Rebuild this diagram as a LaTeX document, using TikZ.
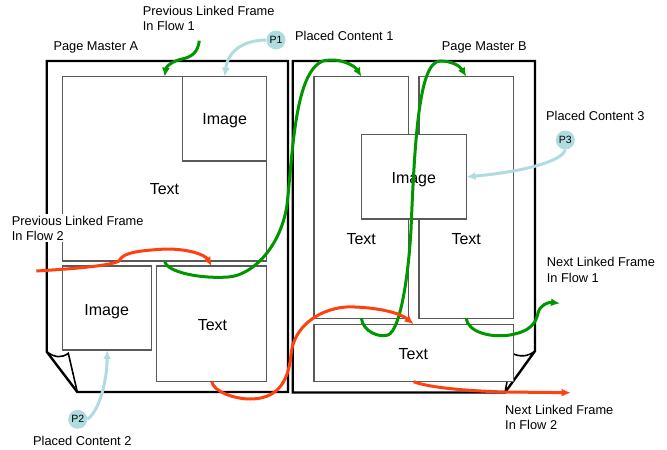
\documentclass[tikz,border=0pt]{standalone}
\usepackage{fontspec}
\setmainfont{Liberation Sans}
\usetikzlibrary{arrows.meta}
\definecolor{flowgreen}{RGB}{0,150,0}
\definecolor{flowred}{RGB}{255,64,16}
\definecolor{placeblue}{RGB}{176,220,224}
\begin{document}
\begin{tikzpicture}[x=1pt,y=-1pt,
  pageline/.style={line width=2.4pt, line join=miter},
  foldline/.style={line width=1.6pt, line join=miter},
  frm/.style={draw=black!65, line width=1.3pt, inner sep=0pt, outer sep=0pt, fill=white},
  big/.style={font=\fontsize{16}{19}\selectfont, inner sep=0pt},
  lbl/.style={font=\fontsize{12.8}{15.3}\selectfont, align=left, inner sep=0pt, anchor=west},
  pin/.style={circle, fill=placeblue, minimum size=19pt, inner sep=0pt, font=\fontsize{10.5}{12}\selectfont},
  greenflow/.style={draw=flowgreen, line width=3pt, -{Latex[length=9pt,width=8pt]}},
  redflow/.style={draw=flowred, line width=3pt, -{Latex[length=9pt,width=8pt]}},
  blueplace/.style={draw=placeblue, line width=3pt, -{Latex[length=9pt,width=8pt]}}
]
\useasboundingbox (0,0) rectangle (667,450);

% page outlines
\draw[pageline] (46.7,351.7) -- (46.7,61) -- (288,61) -- (288,392) -- (77.3,392) -- cycle;
\draw[foldline] (46.7,351.7) .. controls (55,358) and (62,358) .. (68.3,353.3) -- (77.3,392);
\draw[pageline] (535,351) -- (535,61) -- (292.7,61) -- (292.7,392.5) -- (505,392.5) -- cycle;
\draw[foldline] (535,351) .. controls (528,357) and (519,357) .. (512.3,353.3) -- (505,392.5);

% page A frames
\node[frm, minimum width=204pt, minimum height=184.3pt] (aT) at (164.7,168.85) {};
\node[frm, minimum width=84pt, minimum height=84.3pt] (aI1) at (224.7,118.85) {};
\node[frm, minimum width=89pt, minimum height=84pt] (aI2) at (107.2,308) {};
\node[frm, minimum width=110pt, minimum height=115.7pt] (aT2) at (211.7,323.85) {};
\node[big] (aTt) at (164.5,189.5) {Text};
\node[big] (aI1t) at (224.7,121) {Image};
\node[big] (aI2t) at (106.7,311.3) {Image};
\node[big] (aT2t) at (212.5,325) {Text};

% page B frames
\node[frm, minimum width=94.7pt, minimum height=241.6pt] (bT1) at (361.35,197.5) {};
\node[frm, minimum width=94.3pt, minimum height=241.6pt] (bT2) at (466.15,197.5) {};
\node[frm, minimum width=104.8pt, minimum height=84.3pt] (bI) at (414.1,176.85) {};
\node[frm, minimum width=199.3pt, minimum height=57.4pt] (bT3) at (413.65,353) {};
\node[big] (bIt) at (413.8,179.7) {Image};
\node[big] (bT1t) at (361.2,239) {Text};
\node[big] (bT2t) at (466.2,239) {Text};
\node[big] (bT3t) at (413.3,354) {Text};

% labels
\node[lbl] (lpf1) at (142.7,18.3) {Previous Linked Frame\\In Flow 1};
\node[lbl] (lpma) at (53.3,47) {Page Master A};
\node[lbl] (lpc1) at (295,36) {Placed Content 1};
\node[lbl] (lpmb) at (441.7,47) {Page Master B};
\node[lbl] (lpc3) at (546,116) {Placed Content 3};
\node[lbl, fill=white, inner sep=1.5pt] (lpf2) at (10.2,228.3) {Previous Linked Frame\\In Flow 2};
\node[lbl] (lpc2) at (33,440.7) {Placed Content 2};
\node[lbl] (lnf1) at (546.7,270) {Next Linked Frame\\In Flow 1};
\node[lbl] (lnf2) at (505,417.7) {Next Linked Frame\\In Flow 2};

% placed content pins
\node[pin] (p1) at (276,40) {P1};
\node[pin] (p2) at (77.7,419.3) {P2};
\node[pin] (p3) at (565.3,140) {P3};

% free ends
\coordinate (pf1) at (199.3,40.7);
\coordinate (pf2) at (36.3,271);
\coordinate (nf1) at (560,303.3);
\coordinate (nf2) at (570.7,392.7);

% flow 1 (green)
\draw[greenflow] (pf1) .. controls (198,52) and (192,57) .. (182,59) .. controls (172,61) and (166,67) .. (aT.north);
\draw[greenflow] (aT.south) .. controls (166,272) and (200,279) .. (228,277) .. controls (250,276) and (280,250) .. (287,205) .. controls (293,150) and (295,72) .. (323,61) .. controls (340,57) and (355,66) .. (bT1.north);
\draw[greenflow] (bT1.south) .. controls (363,332) and (380,338) .. (388,335) .. controls (400,330) and (408,280) .. (411,230) .. controls (415,130) and (420,62) .. (440,61) .. controls (452,61) and (460,66) .. (bT2.north);
\draw[greenflow] (bT2.south) .. controls (468,332) and (490,338) .. (510,335) .. controls (532,331) and (536,322) .. (538,313) .. controls (540,305) and (548,302) .. (nf1);

% flow 2 (red)
\draw[redflow] (pf2) .. controls (70,269) and (110,266) .. (119,261) .. controls (123,254) and (130,251) .. (166,249) .. controls (190,249) and (205,255) .. (aT2.north);
\draw[redflow] (aT2.south) .. controls (214,392) and (235,399) .. (250,399) .. controls (275,399) and (288,385) .. (291,355) .. controls (294,320) and (330,305) .. (355,307) .. controls (380,308) and (400,313) .. (bT3.north);
\draw[redflow] (bT3.south) .. controls (430,388) and (470,391) .. (505,392) -- (nf2);

% placed content (blue)
\draw[blueplace] (p1.west) .. controls (245,40) and (228,50) .. (aI1.north);
\draw[blueplace] (p2.east) .. controls (100,410) and (107,380) .. (aI2.south);
\draw[blueplace] (p3.south) .. controls (562,162) and (520,172) .. (bI.east);
\end{tikzpicture}
\end{document}
